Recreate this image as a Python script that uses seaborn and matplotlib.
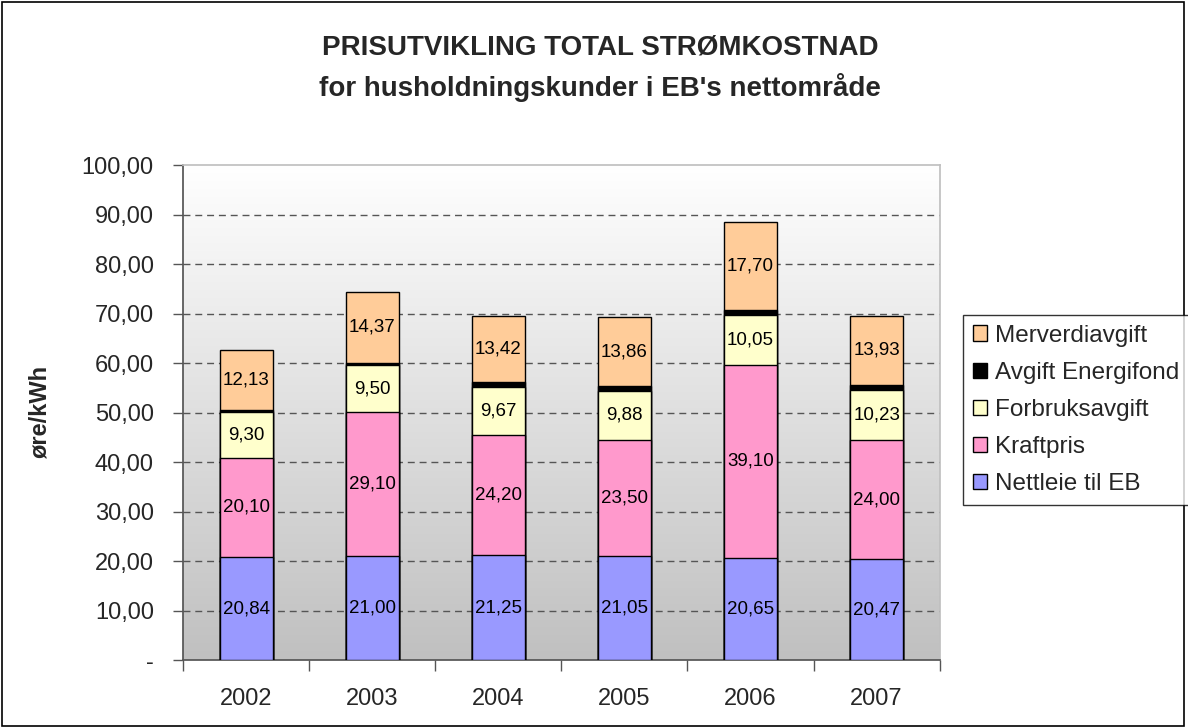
import numpy as np
import pandas as pd
import matplotlib
matplotlib.use("Agg")
import matplotlib.pyplot as plt
import seaborn as sns
from matplotlib.patches import Patch, Rectangle

years = ["2002", "2003", "2004", "2005", "2006", "2007"]
nettleie = [20.84, 21.00, 21.25, 21.05, 20.65, 20.47]
kraftpris = [20.10, 29.10, 24.20, 23.50, 39.10, 24.00]
forbruk = [9.30, 9.50, 9.67, 9.88, 10.05, 10.23]
energifond = [0.30, 0.50, 1.00, 1.00, 1.00, 1.00]
merverdi = [12.13, 14.37, 13.42, 13.86, 17.70, 13.93]

series_names = ["Nettleie til EB", "Kraftpris", "Forbruksavgift", "Avgift Energifond", "Merverdiavgift"]
series_vals = [nettleie, kraftpris, forbruk, energifond, merverdi]
series_colors = ["#9999FF", "#FF99CC", "#FFFFCC", "#000000", "#FFCC99"]
show_labels = [True, True, True, False, True]

sns.set_theme(style="white")
plt.rcParams['font.family'] = ['Liberation Sans', 'DejaVu Sans']

fig = plt.figure(figsize=(11.88, 7.28), dpi=100)
ax = fig.add_axes([0.154, 0.093, 0.637, 0.680])

cum = np.zeros(len(years))
cums = []
for vals in series_vals:
    bottoms = cum.copy()
    cum = cum + np.array(vals)
    cums.append((bottoms, cum.copy()))

# gradient background
grad = np.linspace(1.0, 0.0, 256).reshape(-1, 1)
ax.imshow(grad, extent=[-0.5, 5.5, 0, 100], aspect="auto",
          cmap=matplotlib.colors.LinearSegmentedColormap.from_list("g", ["#C0C0C0", "#FFFFFF"]),
          vmin=0, vmax=1, zorder=0, origin="upper")

# draw cumulative bars from top layer down so each overlays
for i in reversed(range(len(series_vals))):
    top = cums[i][1]
    d = pd.DataFrame({"year": years, "val": top})
    sns.barplot(data=d, x="year", y="val", color=series_colors[i], saturation=1,
                width=0.42, edgecolor="#000000", linewidth=1.0, ax=ax, zorder=3)

# labels
for i, vals in enumerate(series_vals):
    if not show_labels[i]:
        continue
    b, t = cums[i]
    for j, v in enumerate(vals):
        ax.text(j, (b[j] + t[j]) / 2, f"{v:.2f}".replace(".", ","),
                ha="center", va="center", fontsize=13.5, color="black", zorder=5)

ax.set_xlim(-0.5, 5.5)
ax.set_ylim(0, 100)
ax.set_yticks(np.arange(0, 101, 10))
ax.set_yticklabels(["-"] + [f"{v:.2f}".replace(".", ",") for v in range(10, 101, 10)], fontsize=17)
ax.set_xticks(range(len(years)))
ax.set_xticklabels(years, fontsize=17)
ax.set_xlabel("")
ax.set_ylabel("øre/kWh", fontsize=17, fontweight="bold", labelpad=22)

for y in range(10, 100, 10):
    ax.axhline(y, color="#555555", linestyle=(0, (5, 3.5)), linewidth=1.0, zorder=1)

ax.tick_params(axis="y", which="both", left=True, length=7, width=1, color="#555555", pad=14)
ax.tick_params(axis="x", which="major", bottom=False, pad=14)
ax.set_xticks(np.arange(-0.5, 6, 1), minor=True)
ax.tick_params(axis="x", which="minor", bottom=True, length=8, width=1, color="#555555")
ax.spines["top"].set_color("#C0C0C0")
ax.spines["right"].set_color("#C0C0C0")
ax.spines["left"].set_color("#555555")
ax.spines["bottom"].set_color("#555555")
ax.grid(False)

handles = [Patch(facecolor=series_colors[i], edgecolor="black", label=series_names[i])
           for i in reversed(range(len(series_names)))]
leg = fig.legend(handles=handles, loc="upper left", bbox_to_anchor=(0.8106, 0.5673),
                 fontsize=17.5, frameon=True, fancybox=False, edgecolor="black",
                 handlelength=0.6, handleheight=0.6, handletextpad=0.3,
                 labelspacing=0.62, borderpad=0.4, borderaxespad=0)
leg.get_frame().set_linewidth(1.0)

fig.text(0.505, 0.935, "PRISUTVIKLING TOTAL STRØMKOSTNAD", ha="center", va="center",
         fontsize=20, fontweight="bold")
fig.text(0.505, 0.880, "for husholdningskunder i EB's nettområde", ha="center", va="center",
         fontsize=20, fontweight="bold")

fig.patches.append(Rectangle((0.002, 0.003), 0.995, 0.994, transform=fig.transFigure,
                             fill=False, edgecolor="black", linewidth=1.2))

fig.savefig("out.png", dpi=100, facecolor="white")
